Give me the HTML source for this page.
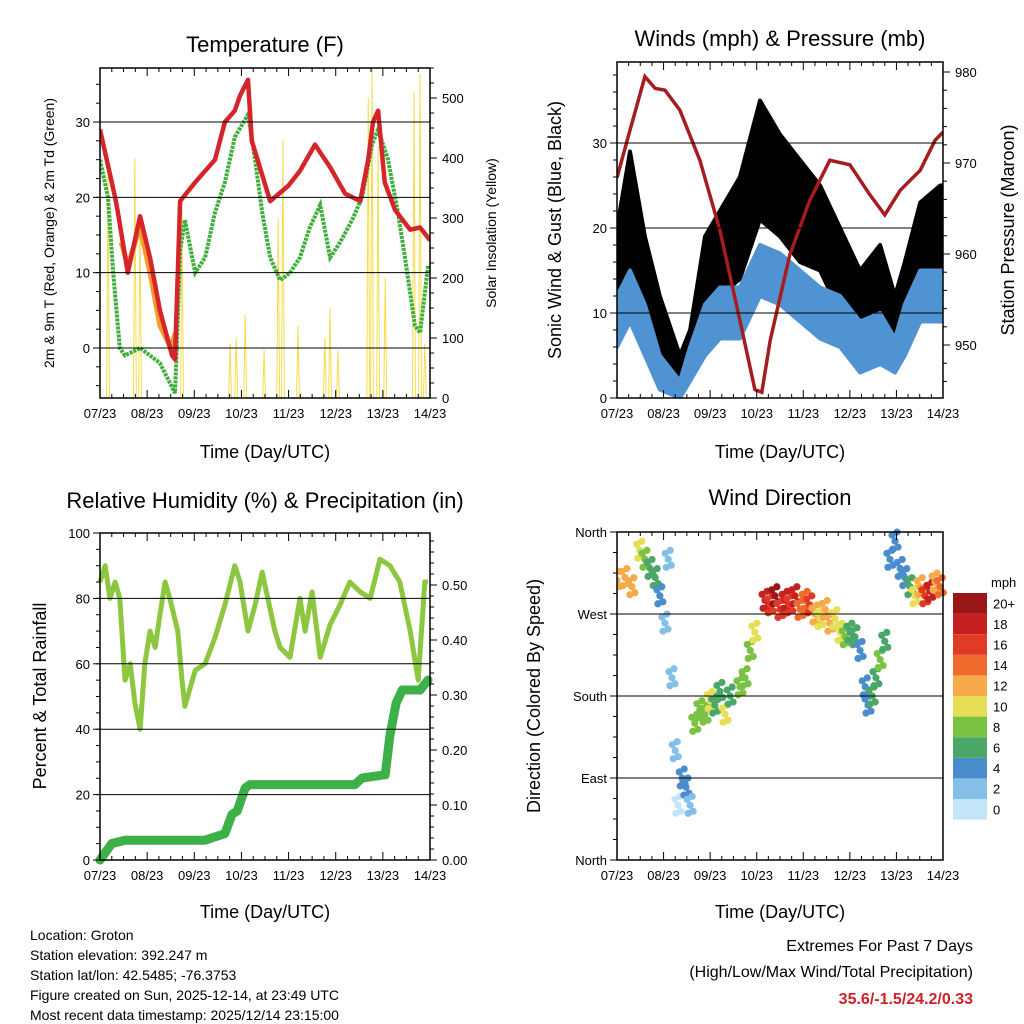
<!DOCTYPE html>
<html><head><meta charset="utf-8"><style>
html,body{margin:0;padding:0;background:#fff;}
svg{display:block;font-family:"Liberation Sans",sans-serif;}
</style></head><body>
<svg id="s" width="1024" height="1024" viewBox="0 0 1024 1024">
<g id="g"></g>
<text x="265" y="52" font-size="22" text-anchor="middle">Temperature (F)</text>
<text x="780" y="46" font-size="22" text-anchor="middle">Winds (mph) &amp; Pressure (mb)</text>
<text x="265" y="508" font-size="22" text-anchor="middle">Relative Humidity (%) &amp; Precipitation (in)</text>
<text x="780" y="505" font-size="22" text-anchor="middle">Wind Direction</text>
<text x="265" y="458" font-size="18" text-anchor="middle">Time (Day/UTC)</text>
<text x="780" y="458" font-size="18" text-anchor="middle">Time (Day/UTC)</text>
<text x="265" y="918" font-size="18" text-anchor="middle">Time (Day/UTC)</text>
<text x="780" y="918" font-size="18" text-anchor="middle">Time (Day/UTC)</text>
<text transform="translate(54,233) rotate(-90)" font-size="14" text-anchor="middle">2m &amp; 9m T (Red, Orange) &amp; 2m Td (Green)</text>
<text transform="translate(496,233) rotate(-90)" font-size="14" text-anchor="middle">Solar Insolation (Yellow)</text>
<text transform="translate(561,230) rotate(-90)" font-size="18" text-anchor="middle">Sonic Wind &amp; Gust (Blue, Black)</text>
<text transform="translate(1014,230) rotate(-90)" font-size="18" text-anchor="middle">Station Pressure (Maroon)</text>
<text transform="translate(46,696) rotate(-90)" font-size="18" text-anchor="middle">Percent &amp; Total Rainfall</text>
<text transform="translate(540,696) rotate(-90)" font-size="18" text-anchor="middle">Direction (Colored By Speed)</text>
<g font-size="14">
<text x="30" y="940">Location: Groton</text>
<text x="30" y="960">Station elevation: 392.247 m</text>
<text x="30" y="980">Station lat/lon: 42.5485; -76.3753</text>
<text x="30" y="1000">Figure created on Sun, 2025-12-14, at 23:49 UTC</text>
<text x="30" y="1020">Most recent data timestamp: 2025/12/14 23:15:00</text>
</g>
<text x="973" y="951" font-size="16" text-anchor="end">Extremes For Past 7 Days</text>
<text x="973" y="977" font-size="16" text-anchor="end">(High/Low/Max Wind/Total Precipitation)</text>
<text x="973" y="1004" font-size="16" font-weight="bold" fill="#d0202a" text-anchor="end">35.6/-1.5/24.2/0.33</text>
</svg>
<script>
const dayLabels=["07/23","08/23","09/23","10/23","11/23","12/23","13/23","14/23"];
const tT=[0,0.32,0.38,0.59,0.85,1.06,1.27,1.53,1.59,1.70,2.02,2.44,2.65,2.86,2.97,3.14,3.22,3.39,3.61,3.99,4.24,4.56,4.88,5.20,5.52,5.69,5.79,5.90,6.04,6.26,6.58,6.79,7.0];
const temp2m=[29,20,18,10,17.5,12,5,-1,-1.5,19.5,22,25,30,31.5,33.5,35.6,27.5,24,19.5,21.5,23.5,27,24,20.5,19.5,25,30,31.5,22,18.3,15.7,16,14.3];
const tO=[0.45,0.59,0.85,1.06,1.27,1.5,1.6];
const temp9m=[14,11,16,10,3,0,2];
const tD=[0,0.17,0.28,0.42,0.53,0.85,1.27,1.59,1.63,1.70,1.80,2.02,2.23,2.44,2.65,2.86,3.14,3.29,3.44,3.61,3.82,4.03,4.24,4.45,4.67,4.88,5.09,5.35,5.56,5.77,5.90,6.11,6.32,6.47,6.68,6.79,6.96];
const dewpt=[25,20,10,0,-1,0,-2,-6,0,13,17,10,12,18,22,28,31,25,18,12,9,10,12,16,19,12,14,17,20,27,29,25,18,12,3,2,11];
const tS=[0.17,0.74,0.85,1.74,2.76,2.89,3.08,3.48,3.78,3.88,4.20,4.77,4.88,5.05,5.69,5.77,5.90,6.05,6.66,6.79,6.89];
const solar=[380,400,300,310,90,100,140,80,300,430,120,100,150,80,500,550,420,200,510,540,90];
const tW=[0,0.28,0.6,0.92,1.35,1.57,1.89,2.21,2.64,3.07,3.5,3.93,4.36,4.79,5.22,5.65,5.97,6.18,6.51,6.94,7.0];
const gust=[15,22,14,8,3,5,14,17,20,28,25,22,20,15,11,13,8,12,18,20,20];
const gustSpread=[5,7,5,4,2,3,5,5,6,7,6,6,5,5,4,5,4,4,5,5,5];
const wind=[9,12,8,3,1,4,8,10,10,15,14,12,10,9,6,7,5,8,12,12,12];
const windSpread=[3,3,3,2,1,2,3,3,3,3,3,3,3,3,3,3,2,3,3,3,3];
const tP=[0,0.28,0.60,0.82,1.03,1.35,1.78,2.21,2.64,2.96,3.11,3.29,3.71,4.14,4.57,5.0,5.43,5.75,6.08,6.51,6.83,7.0];
const pres=[968.4,973.6,979.5,978.2,978,975.8,970.3,962.6,952.7,945.1,944.8,950.5,959.9,965.9,970.3,969.8,966.5,964.3,967,969.2,972.5,973.4];
const tR=[0,.11,.21,.32,.42,.53,.64,.74,.85,.95,1.06,1.17,1.27,1.38,1.48,1.65,1.74,1.80,2.02,2.23,2.44,2.65,2.86,2.97,3.14,3.29,3.44,3.56,3.71,3.82,4.03,4.24,4.35,4.50,4.67,4.88,5.09,5.30,5.52,5.73,5.94,6.15,6.36,6.58,6.75,6.89,6.96];
const rh=[85,90,80,85,80,55,60,48,40,60,70,65,75,85,80,70,55,47,58,60,68,78,90,85,70,78,88,80,70,65,62,80,70,82,62,72,78,85,82,80,92,90,85,70,55,85,85];
const tPr=[0,.25,.53,2.23,2.44,2.65,2.80,2.91,3.08,3.18,5.41,5.56,6.05,6.15,6.28,6.41,6.79,6.96];
const precip=[0,0.030,0.036,0.036,0.042,0.048,0.083,0.089,0.131,0.137,0.137,0.149,0.155,0.226,0.285,0.309,0.309,0.327];
const tDir=[0,.17,.32,.49,.60,.71,.82,.92,1.03,1.10,1.18,1.25,1.31,1.40,1.48,1.57,1.67,1.78,1.89,2.00,2.10,2.21,2.32,2.43,2.64,2.75,2.86,2.96,3.18,3.29,3.39,3.50,3.61,3.71,3.82,3.93,4.04,4.14,4.25,4.36,4.47,4.57,4.68,4.79,4.90,5.00,5.11,5.22,5.33,5.39,5.48,5.56,5.65,5.75,5.86,5.97,6.08,6.18,6.29,6.40,6.51,6.61,6.72,6.83,6.94];
const dirDeg=[307,310,300,340,330,320,310,290,260,330,200,120,60,90,80,60,150,165,160,175,170,185,160,180,190,200,230,250,285,280,290,275,285,280,290,275,285,280,270,265,275,260,265,250,245,250,245,230,190,170,180,200,220,240,330,350,320,310,300,290,300,290,295,305,300];
const dirSpd=[12,11,12,10,8,6,5,4,2,1,1,1,0,3,3,2,8,7,8,9,6,6,9,5,7,8,7,9,17,16,19,15,18,16,18,14,13,15,12,10,11,12,9,10,7,6,5,4,3,4,5,6,7,6,3,3,4,3,5,9,11,16,17,12,13];
const cbLabels=["0","2","4","6","8","10","12","14","16","18","20+"];
const cbColors=["#c4e5f8","#84bfe8","#4a8dcc","#4ba768","#7cc242","#e6df55","#f7aa4a","#ef6a2d","#e23a27","#c62020","#9a1717"];

const NS="http://www.w3.org/2000/svg";
const G=document.getElementById('g');
function mk(tag,at,parent){const e=document.createElementNS(NS,tag);for(const k in at)e.setAttribute(k,at[k]);(parent||G).appendChild(e);return e;}
function lin(d0,d1,r0,r1){return v=>r0+(v-d0)/(d1-d0)*(r1-r0);}
function path(xs,ys,fx,fy){return xs.map((t,i)=>(i?'L':'M')+fx(t).toFixed(1)+','+fy(ys[i]).toFixed(1)).join('');}

function frame(name,x0,x1,y0,y1,fx,fyL,leftTicks,leftMinor,fyR,rightTicks,rightMinor,rightFmt,grid){
  const g=mk('g',{});
  
  
  grid.forEach(v=>{const y=fyL(v);mk('line',{x1:x0,x2:x1,y1:y,y2:y,stroke:'#000','stroke-width':1},g);});
  for(let d=0;d<=7;d++){const x=fx(d);
    mk('line',{x1:x,x2:x,y1:y1,y2:y1-8,stroke:'#000'},g);mk('line',{x1:x,x2:x,y1:y0,y2:y0+8,stroke:'#000'},g);
    const t=mk('text',{x:x,y:y1+20,'font-size':13,'text-anchor':'middle'},g);t.textContent=dayLabels[d];
    
    
    if(d<7)for(let k=1;k<4;k++){const xm=fx(d+k/4);mk('line',{x1:xm,x2:xm,y1:y1,y2:y1-4,stroke:'#000'},g);mk('line',{x1:xm,x2:xm,y1:y0,y2:y0+4,stroke:'#000'},g);}
  }
  leftTicks.forEach(([v,s])=>{const y=fyL(v);mk('line',{x1:x0,x2:x0-7,y1:y,y2:y,stroke:'#000'},g);
    const t=mk('text',{x:x0-10,y:y+5,'font-size':13,'text-anchor':'end'},g);t.textContent=s;
    
    });
  leftMinor.forEach(v=>{const y=fyL(v);if(y>=y0-0.5&&y<=y1+0.5)mk('line',{x1:x0,x2:x0-4,y1:y,y2:y,stroke:'#000'},g);});
  if(fyR){rightTicks.forEach(([v,s])=>{const y=fyR(v);mk('line',{x1:x1,x2:x1+7,y1:y,y2:y,stroke:'#000'},g);
    const t=mk('text',{x:x1+12,y:y+5,'font-size':13},g);t.textContent=s;
    
    });
    rightMinor.forEach(v=>{const y=fyR(v);if(y>=y0-0.5&&y<=y1+0.5)mk('line',{x1:x1,x2:x1+4,y1:y,y2:y,stroke:'#000'},g);});}
  mk('rect',{x:x0,y:y0,width:x1-x0,height:y1-y0,fill:'none',stroke:'#000','stroke-width':1.5},g);
}
function rng(a,b,s){const r=[];for(let v=a;v<=b+1e-9;v+=s)r.push(+v.toFixed(4));return r;}

// ---- Panel 1 temperature
(function(){
 const x0=100,x1=430,y0=68,y1=398;
 const fx=lin(0,7,x0,x1), fy=lin(0,30,348,122), fs=lin(0,500,398,98);
 const clip=mk('clipPath',{id:'c1'});mk('rect',{x:x0,y:y0,width:x1-x0,height:y1-y0},clip);
 const p=mk('g',{'clip-path':'url(#c1)'});
 tS.forEach((t,i)=>{const e=mk('path',{d:`M${fx(t-0.03)},${fs(0)}L${fx(t)},${fs(solar[i])}L${fx(t+0.03)},${fs(0)}`,fill:'none',stroke:'#f7dc4a','stroke-width':1},p);
  
  });
 let e=mk('path',{d:path(tD,dewpt,fx,fy),fill:'none',stroke:'#3fae3c','stroke-width':4,'stroke-dasharray':'3 1'},p);
 
 
 e=mk('path',{d:path(tO,temp9m,fx,fy),fill:'none',stroke:'#f39a2a','stroke-width':5},p);
 
 
 e=mk('path',{d:path(tT,temp2m,fx,fy),fill:'none',stroke:'#d6252a','stroke-width':4.5,'stroke-linejoin':'round'},p);
 
 
 frame('temperature',x0,x1,y0,y1,fx,fy,[[0,'0'],[10,'10'],[20,'20'],[30,'30']],rng(-5,35,2.5),fs,[[0,'0'],[100,'100'],[200,'200'],[300,'300'],[400,'400'],[500,'500']],rng(0,550,25),null,[0,10,20,30]);
})();

// ---- Panel 2 winds
(function(){
 const x0=617,x1=943,y0=62,y1=398;
 const fx=lin(0,7,x0,x1), fy=lin(0,30,398,143), fp=lin(950,980,345,72);
 const clip=mk('clipPath',{id:'c2'});mk('rect',{x:x0,y:y0,width:x1-x0,height:y1-y0},clip);
 const p=mk('g',{'clip-path':'url(#c2)'});
 function band(vals,spr,col,name){
  const up=tW.map((t,i)=>fx(t).toFixed(1)+','+fy(vals[i]+spr[i]).toFixed(1));
  const dn=tW.map((t,i)=>fx(t).toFixed(1)+','+fy(Math.max(0,vals[i]-spr[i])).toFixed(1)).reverse();
  const e=mk('polygon',{points:up.concat(dn).join(' '),fill:col,stroke:col,'stroke-width':4,'stroke-linejoin':'round'},p);
  
  
 }
 band(gust,gustSpread,'#000','gust-band');
 band(wind,windSpread,'#4f93d2','wind-band');
 const e=mk('path',{d:path(tP,pres,fx,fp),fill:'none',stroke:'#a51d1f','stroke-width':3.5},p);
 
 
 frame('winds',x0,x1,y0,y1,fx,fy,[[0,'0'],[10,'10'],[20,'20'],[30,'30']],rng(0,38,2),fp,[[950,'950'],[960,'960'],[970,'970'],[980,'980']],rng(944,981,2),null,[10,20,30]);
})();

// ---- Panel 3 RH
(function(){
 const x0=100,x1=430,y0=533,y1=860;
 const fx=lin(0,7,x0,x1), fy=lin(0,100,860,533), fr=lin(0,0.5,860,585);
 const clip=mk('clipPath',{id:'c3'});mk('rect',{x:x0-8,y:y0,width:x1-x0+16,height:y1-y0+8},clip);
 const p=mk('g',{'clip-path':'url(#c3)'});
 let e=mk('path',{d:path(tR,rh,fx,fy),fill:'none',stroke:'#8dc63f','stroke-width':5,'stroke-linejoin':'round'},p);
 
 
 e=mk('path',{d:path(tPr,precip,fx,fr),fill:'none',stroke:'#3db048','stroke-width':9,'stroke-linejoin':'round','stroke-linecap':'round'},p);
 
 
 frame('humidity',x0,x1,y0,y1,fx,fy,[[0,'0'],[20,'20'],[40,'40'],[60,'60'],[80,'80'],[100,'100']],rng(0,100,5),fr,[[0,'0.00'],[0.1,'0.10'],[0.2,'0.20'],[0.3,'0.30'],[0.4,'0.40'],[0.5,'0.50']],rng(0,0.59,0.02),null,[20,40,60,80]);
})();

// ---- Panel 4 wind direction
(function(){
 const x0=617,x1=943,y0=532,y1=860;
 const fx=lin(0,7,x0,x1), fy=lin(0,360,860,532);
 const clip=mk('clipPath',{id:'c4'});mk('rect',{x:x0,y:y0-6,width:x1-x0+4,height:y1-y0+6},clip);
 const p=mk('g',{'clip-path':'url(#c4)'});
 function col(s){return cbColors[Math.min(10,Math.max(0,Math.round(s/2)))];}
 const offs=[[0,0],[-3,-6],[3,6],[-2,8],[2,-9]];
 tDir.forEach((t,i)=>{offs.forEach(o=>{const c=mk('circle',{cx:fx(t)+o[0],cy:fy(dirDeg[i])+o[1],r:3.6,fill:col(dirSpd[i])},p);
   
   });});
 frame('direction',x0,x1,y0,y1,fx,fy,[[0,'North'],[90,'East'],[180,'South'],[270,'West'],[360,'North']],rng(0,360,22.5),null,[],[],null,[90,180,270]);
 const cb=mk('g',{});
 
 
 const bh=20.6, top=593;
 cbColors.forEach((c,i)=>{const y=top+(10-i)*bh;mk('rect',{x:953,y:y,width:34,height:bh,fill:c},cb);
   const t=mk('text',{x:993,y:y+bh/2+5,'font-size':13},cb);t.textContent=cbLabels[i];
   
   });
 const t=mk('text',{x:991,y:587,'font-size':13},cb);t.textContent='mph';
 
 
})();
</script>
</body></html>
